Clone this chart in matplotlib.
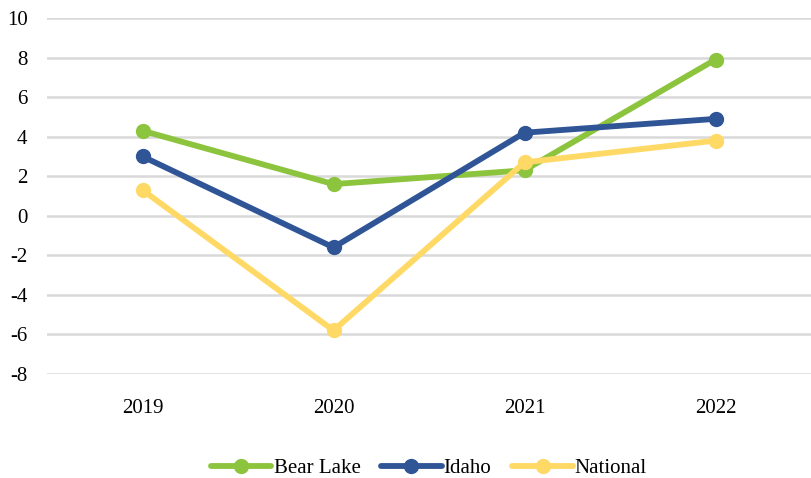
import matplotlib
matplotlib.use("Agg")
import matplotlib.pyplot as plt

years = ["2019", "2020", "2021", "2022"]
bear_lake = [4.3, 1.6, 2.3, 7.9]
idaho = [3.0, -1.6, 4.2, 4.9]
national = [1.3, -5.8, 2.7, 3.8]
y_ticks = [-8, -6, -4, -2, 0, 2, 4, 6, 8, 10]

series = [
    ("Bear Lake", bear_lake, "#8CC43E"),
    ("Idaho", idaho, "#2F5597"),
    ("National", national, "#FFD966"),
]

plt.rcParams["font.family"] = ["Liberation Serif", "DejaVu Serif"]

fig = plt.figure(figsize=(8.11, 4.78), dpi=100)
ax = fig.add_axes([47 / 811, 1 - 374 / 478, 1 - 47 / 811, (374 - 18) / 478])

x = list(range(len(years)))
for label, vals, color in series:
    ax.plot(x, vals, color=color, lw=4.2, marker="o", ms=10,
            label=label, solid_capstyle="round", zorder=3)

ax.set_xlim(-0.5, len(years) - 0.5)
ax.set_ylim(-8, 10)
ax.set_yticks(y_ticks)
ax.set_yticklabels([str(t) for t in y_ticks])
ax.set_xticks(x)
ax.set_xticklabels(years)
ax.grid(axis="y", color="#D9D9D9", lw=1.8)
ax.set_axisbelow(True)
for s in ax.spines.values():
    s.set_visible(False)
ax.tick_params(length=0, labelsize=15)
ax.tick_params(axis="y", pad=14)
ax.tick_params(axis="x", pad=18)

ax.legend(loc="lower center", bbox_to_anchor=(0.5, -0.345), ncol=3,
          frameon=False, prop={"family": "Liberation Serif", "size": 15},
          handlelength=2.9, handletextpad=0.1, columnspacing=1.0)

fig.savefig("out.png", dpi=100)
